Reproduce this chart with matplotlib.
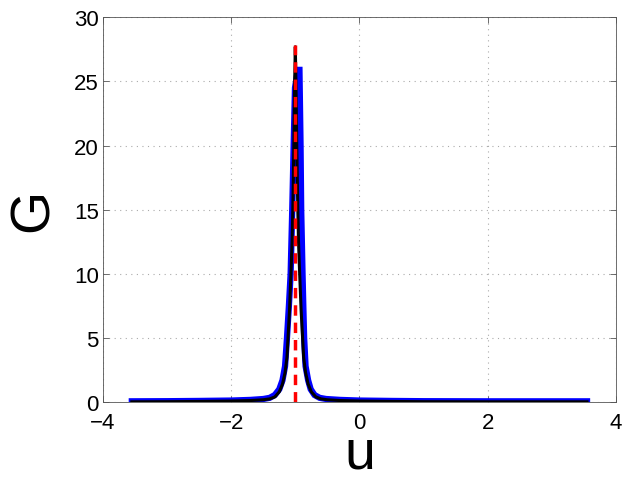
import numpy as np
import matplotlib
matplotlib.use("Agg")
import matplotlib.pyplot as plt

plt.rcParams['font.family'] = ['Liberation Sans', 'DejaVu Sans']

# black curve
u_black = [-3.55, -3.0, -2.5, -2.0, -1.7, -1.5, -1.4, -1.32, -1.25, -1.2, -1.16, -1.13,
           -1.114, -1.09, -1.068, -1.05, -1.039, -1.023, -1.01, -1.0, -0.99, -0.977,
           -0.961, -0.95, -0.932, -0.91, -0.886, -0.87, -0.84, -0.8, -0.75, -0.68,
           -0.6, -0.5, -0.3, 0.0, 0.5, 1.0, 2.0, 3.55]
g_black = [0.02, 0.03, 0.05, 0.08, 0.12, 0.18, 0.25, 0.4, 0.8, 1.4, 2.3, 3.5,
           5.0, 7.2, 10.0, 12.5, 15.0, 20.0, 25.0, 27.7, 25.0, 20.0,
           15.0, 12.5, 10.0, 7.2, 5.0, 3.5, 2.3, 1.4, 0.8, 0.4,
           0.25, 0.18, 0.12, 0.08, 0.05, 0.03, 0.02, 0.02]

# blue curve
u_blue = [-3.55, -3.0, -2.5, -2.0, -1.7, -1.5, -1.4, -1.32, -1.25, -1.2, -1.16, -1.13,
          -1.1, -1.073, -1.048, -1.026, -1.005, -0.96, -0.935, -0.918, -0.908, -0.887,
          -0.875, -0.862, -0.84, -0.8, -0.76, -0.7, -0.62, -0.52, -0.3, 0.0,
          0.5, 1.0, 2.0, 3.55]
g_blue = [0.06, 0.07, 0.09, 0.12, 0.17, 0.24, 0.33, 0.55, 1.0, 1.7, 2.8, 5.0,
          7.5, 10.0, 15.0, 20.0, 24.5, 25.9, 25.9, 20.0, 15.0, 10.0,
          7.5, 5.0, 2.8, 1.7, 1.0, 0.55, 0.33, 0.24, 0.17, 0.12,
          0.09, 0.07, 0.06, 0.06]

# red dashed marker line
u_red = [-1.0, -1.0]
g_red = [0.0, 27.8]

xticks = [-4, -2, 0, 2, 4]
yticks = [0, 5, 10, 15, 20, 25, 30]

fig = plt.figure(figsize=(6.24, 4.81), dpi=100)
ax = fig.add_axes([0.165, 0.162, 0.822, 0.8])

ax.plot(u_blue, g_blue, color='#0000ff', lw=4.5, solid_joinstyle='miter', zorder=2)
ax.plot(u_black, g_black, color='black', lw=2.2, zorder=3)
ax.plot(u_red, g_red, color='#ff0000', lw=2.5, ls=(0, (3, 2)), zorder=4)

ax.set_xlim(-4, 4)
ax.set_ylim(0, 30)
ax.set_xticks(xticks)
ax.set_yticks(yticks)
ax.grid(True, ls=(0, (1, 4)), color='#aaaaaa', lw=0.8)
ax.set_axisbelow(True)

for s in ax.spines.values():
    s.set_color('#555555')
    s.set_linewidth(0.6)

ax.tick_params(direction='in', length=4, width=0.6, color='#555555',
               labelsize=16, top=True, right=True)
ax.tick_params(axis='x', pad=7)
ax.tick_params(axis='y', pad=3)

ax.set_xlabel('u', fontsize=40, labelpad=-4)
ax.set_ylabel('G', fontsize=40, labelpad=10)

fig.savefig('out.png', dpi=100)
